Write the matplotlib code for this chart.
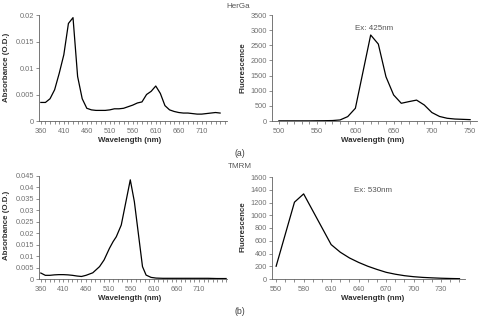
import matplotlib
matplotlib.use("Agg")
import matplotlib.pyplot as plt
from matplotlib.ticker import FixedLocator

plt.rcParams['font.family'] = ['Liberation Sans', 'DejaVu Sans']

# ---- Data: HerGa absorbance ----
herga_abs_wl = [360, 370, 380, 390, 400, 410, 420, 430, 440, 450, 460, 470, 480, 490, 500,
                510, 520, 530, 540, 550, 560, 570, 580, 590, 600, 610, 620, 630, 640, 650,
                660, 670, 680, 690, 700, 710, 720, 730, 740, 750]
herga_abs = [0.0035, 0.0035, 0.0042, 0.0059, 0.0090, 0.0125, 0.0184, 0.0195, 0.0084, 0.0042,
             0.0024, 0.0021, 0.0020, 0.0020, 0.0020, 0.0021, 0.0023, 0.0023, 0.0024, 0.0027,
             0.0030, 0.0034, 0.0036, 0.0050, 0.0056, 0.0066, 0.0052, 0.0029, 0.0021, 0.0018,
             0.0016, 0.0015, 0.0015, 0.0014, 0.0013, 0.0013, 0.0014, 0.0015, 0.0016, 0.0015]

# ---- Data: HerGa fluorescence ----
herga_fl_wl = [500, 510, 520, 530, 540, 550, 560, 570, 580, 590, 600, 610, 620, 630, 640,
               650, 660, 670, 680, 690, 700, 710, 720, 730, 740, 750]
herga_fl = [5, 5, 5, 5, 5, 8, 10, 15, 35, 145, 420, 1630, 2840, 2540, 1460,
            860, 585, 640, 690, 530, 280, 150, 90, 65, 55, 45]

# ---- Data: TMRM absorbance ----
tmrm_abs_wl = [360, 370, 380, 390, 400, 410, 420, 430, 440, 450, 460, 475, 490, 500, 512,
               520, 527, 538, 558, 567, 585, 593, 604, 615, 630, 650, 670, 690, 710, 730,
               750, 770]
tmrm_abs = [0.0026, 0.0016, 0.0016, 0.0018, 0.0019, 0.0019, 0.0018, 0.0016, 0.0013, 0.0011,
            0.0016, 0.0027, 0.0054, 0.0083, 0.0134, 0.0163, 0.0184, 0.0235, 0.0432, 0.0337,
            0.0054, 0.0017, 0.0007, 0.0004, 0.0003, 0.0003, 0.0003, 0.0003, 0.0003, 0.0003,
            0.0002, 0.0002]

# ---- Data: TMRM fluorescence ----
tmrm_fl_wl = [550, 570, 580, 610, 620, 630, 640, 650, 660, 670, 680, 690, 700, 710, 720,
              730, 740, 750]
tmrm_fl = [200, 1205, 1335, 540, 420, 330, 260, 200, 150, 105, 75, 52, 36, 25, 18, 12, 8, 5]

abs_top_ticks = [0, 0.005, 0.01, 0.015, 0.02]
abs_top_labels = ["0", "0.005", "0.01", "0.015", "0.02"]
abs_bot_ticks = [0, 0.005, 0.01, 0.015, 0.02, 0.025, 0.03, 0.035, 0.04, 0.045]
abs_bot_labels = ["0", "0.005", "0.01", "0.015", "0.02", "0.025", "0.03", "0.035", "0.04", "0.045"]
fl_top_ticks = [0, 500, 1000, 1500, 2000, 2500, 3000, 3500]
fl_bot_ticks = [0, 200, 400, 600, 800, 1000, 1200, 1400, 1600]
abs_x_ticks = [360, 410, 460, 510, 560, 610, 660, 710]
flA_x_ticks = [500, 550, 600, 650, 700, 750]
flB_x_ticks = [550, 580, 610, 640, 670, 700, 730]

W, H = 482, 318
fig = plt.figure(figsize=(W / 100, H / 100), dpi=100)

def px_axes(l, r, t, b):
    return fig.add_axes([l / W, 1 - b / H, (r - l) / W, (b - t) / H])

TICK_C = '#707070'
SPINE_C = '#606060'
LAB_C = '#303030'

def style(ax, xlim, ylim, xticks, yticks, ylabels, minor_start, minor_step):
    ax.set_xlim(*xlim)
    ax.set_ylim(*ylim)
    for s in ['top', 'right']:
        ax.spines[s].set_visible(False)
    for s in ['left', 'bottom']:
        ax.spines[s].set_color(SPINE_C)
        ax.spines[s].set_linewidth(0.6)
    ax.xaxis.set_major_locator(FixedLocator(xticks))
    ax.set_xticklabels([str(v) for v in xticks])
    minors = list(range(minor_start, int(xlim[1]) + 1, minor_step))
    ax.xaxis.set_minor_locator(FixedLocator(minors))
    ax.set_yticks(yticks)
    ax.set_yticklabels(ylabels)
    ax.tick_params(axis='both', which='both', direction='out', length=2.2, width=0.5,
                   color=SPINE_C, labelsize=5.3, labelcolor=TICK_C, pad=1.5)
    ax.tick_params(axis='x', pad=2.5)

def xlab(ax, xc, yc):
    fig.text(xc / W, 1 - yc / H, "Wavelength (nm)", ha='center', va='center',
             fontsize=5.7, fontweight='bold', color=LAB_C)

def ylab(x, y, s):
    fig.text(x / W, 1 - y / H, s, ha='center', va='center', rotation=90,
             fontsize=5.7, fontweight='bold', color=LAB_C)

# Top-left
ax1 = px_axes(39, 227, 15, 121)
ax1.plot(herga_abs_wl, herga_abs, color='black', lw=0.9)
style(ax1, (356, 765), (0, 0.02), abs_x_ticks, abs_top_ticks, abs_top_labels, 360, 10)
xlab(ax1, 130, 141)
ylab(7, 67, "Absorbance (O.D.)")

# Top-right
ax2 = px_axes(272, 477, 15, 121)
ax2.plot(herga_fl_wl, herga_fl, color='black', lw=0.9)
style(ax2, (491, 759), (0, 3500), flA_x_ticks, fl_top_ticks, [str(v) for v in fl_top_ticks], 500, 10)
xlab(ax2, 373, 141)
ylab(243, 68, "Fluorescence")
fig.text(374 / W, 1 - 29 / H, "Ex: 425nm", ha='center', va='center', fontsize=5.8, color='#555555')

# Bottom-left
ax3 = px_axes(39, 227, 175.7, 279)
ax3.plot(tmrm_abs_wl, tmrm_abs, color='black', lw=0.9)
style(ax3, (356, 772), (0, 0.045), abs_x_ticks, abs_bot_ticks, abs_bot_labels, 360, 10)
xlab(ax3, 130, 298)
ylab(7, 225, "Absorbance (O.D.)")

# Bottom-right
ax4 = px_axes(272, 465, 177, 279)
ax4.plot(tmrm_fl_wl, tmrm_fl, color='black', lw=0.9)
style(ax4, (545.5, 756), (0, 1600), flB_x_ticks, fl_bot_ticks, [str(v) for v in fl_bot_ticks], 550, 10)
xlab(ax4, 373, 298)
ylab(243, 227, "Fluorescence")
fig.text(373 / W, 1 - 190 / H, "Ex: 530nm", ha='center', va='center', fontsize=5.8, color='#555555')

# Titles and panel labels
fig.text(238 / W, 1 - 6 / H, "HerGa", ha='center', va='center', fontsize=5.8, color='#555555')
fig.text(240 / W, 1 - 153 / H, "(a)", ha='center', va='center', fontsize=6.3, color='#404040')
fig.text(240 / W, 1 - 167 / H, "TMRM", ha='center', va='center', fontsize=5.8, color='#555555')
fig.text(240 / W, 1 - 311 / H, "(b)", ha='center', va='center', fontsize=6.3, color='#404040')

fig.savefig("out.png", dpi=100)
